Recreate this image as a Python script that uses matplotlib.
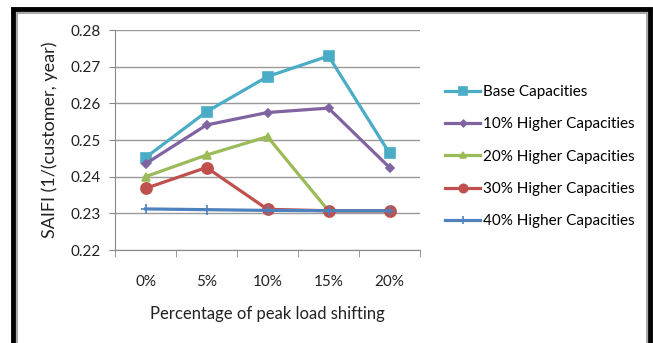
import matplotlib
matplotlib.use("Agg")
import matplotlib.pyplot as plt
from matplotlib.patches import Rectangle

plt.rcParams['font.family'] = ['Lato', 'DejaVu Sans']

# data
shifts = ['0%', '5%', '10%', '15%', '20%']
base = [0.2452, 0.2577, 0.2673, 0.2729, 0.2464]
higher10 = [0.2435, 0.2541, 0.2575, 0.2587, 0.2425]
higher20 = [0.2400, 0.2459, 0.2509, 0.2307, 0.2307]
higher30 = [0.2368, 0.2425, 0.2311, 0.2307, 0.2307]
higher40 = [0.2312, 0.2310, 0.2308, 0.2307, 0.2307]

series = [
    ('Base Capacities', base, '#4BACC6', 's', 7),
    ('10% Higher Capacities', higher10, '#8064A2', 'D', 4.5),
    ('20% Higher Capacities', higher20, '#9BBB59', '^', 6),
    ('30% Higher Capacities', higher30, '#C0504D', 'o', 8),
    ('40% Higher Capacities', higher40, '#4F81BD', '+', 7),
]

fig = plt.figure(figsize=(6.53, 3.43), dpi=100)
ax = fig.add_axes([115 / 653, 1 - 250 / 343, 305 / 653, 220 / 343])

x = list(range(len(shifts)))
for label, vals, col, mk, ms in series:
    ax.plot(x, vals, color=col, lw=2.3, marker=mk, ms=ms, mfc=col, mec=col,
            mew=1.2, label=label)

ax.set_xlim(-0.5, len(shifts) - 0.5)
ax.set_ylim(0.22, 0.28)
ax.set_yticks([0.22, 0.23, 0.24, 0.25, 0.26, 0.27, 0.28])
ax.set_yticklabels(['%.2f' % v for v in ax.get_yticks()], fontsize=11, color='#222222')
ax.set_xticks(x)
ax.set_xticklabels(shifts, fontsize=11, color='#222222')
ax.tick_params(axis='x', length=0, pad=18)
ax.tick_params(axis='y', length=4, color='#888888', pad=6)
ax.set_xticks([i - 0.5 for i in range(len(shifts) + 1)], minor=True)
ax.tick_params(axis='x', which='minor', length=5, color='#888888')

ax.grid(axis='y', color='#999999', lw=1)
ax.set_axisbelow(True)
for s in ['top', 'right']:
    ax.spines[s].set_visible(False)
ax.spines['left'].set_color('#888888')
ax.spines['bottom'].set_color('#888888')

ax.set_xlabel('Percentage of peak load shifting', fontsize=12, color='#222222', labelpad=12)
ax.set_ylabel('SAIFI (1/(customer, year)', fontsize=13, color='#222222', labelpad=9)

ax.legend(loc='upper left', bbox_to_anchor=(445 / 653, 1 - 85 / 343),
          bbox_transform=fig.transFigure, frameon=False, fontsize=11,
          handlelength=2.3, handletextpad=0.2, labelspacing=1.2,
          borderaxespad=0, borderpad=0, markerscale=0.75)

# outer frame
fig.patches.append(Rectangle((13 / 653, -0.05), (650 - 13) / 653, (1 - 9 / 343) + 0.05,
                             transform=fig.transFigure, fill=False,
                             ec='black', lw=3.5, zorder=10))
fig.patches.append(Rectangle((16.5 / 653, -0.05), (646.5 - 16.5) / 653, (1 - 12.5 / 343) + 0.05,
                             transform=fig.transFigure, fill=False,
                             ec='#aaaaaa', lw=1.5, zorder=10))

fig.savefig('out.png', dpi=100)
